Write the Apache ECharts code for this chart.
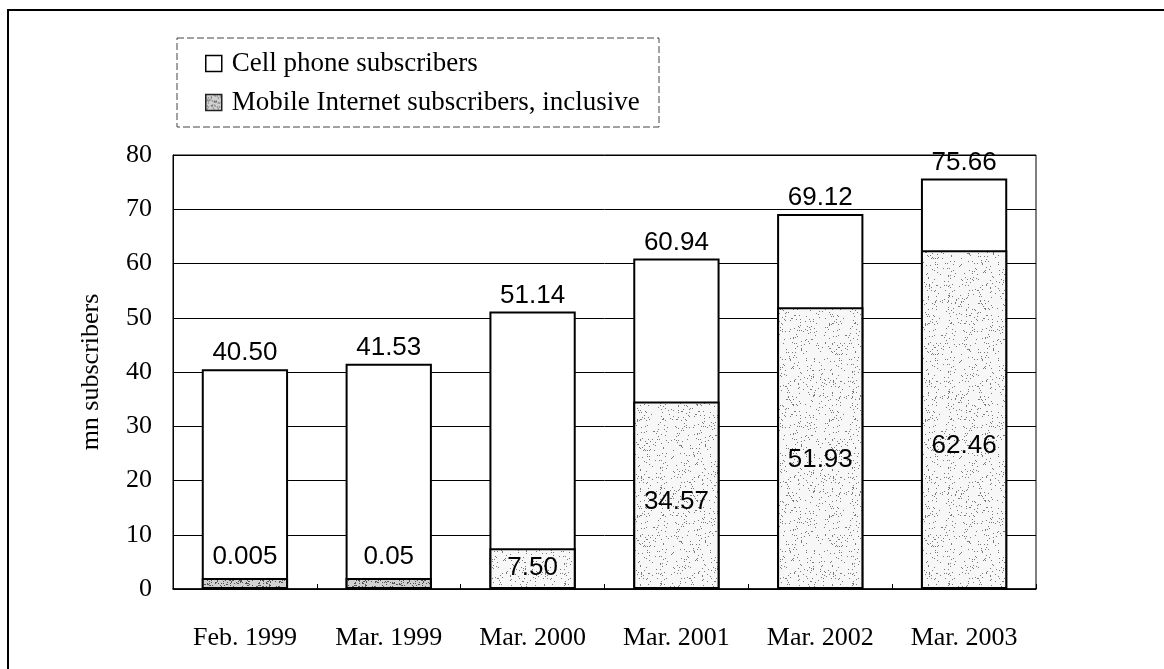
<!DOCTYPE html>
<html>
<head>
<meta charset="utf-8">
<script src="https://cdn.jsdelivr.net/npm/echarts@6/dist/echarts.min.js"></script>
<style>
html,body{margin:0;padding:0;background:#fff;}
#chart{width:1164px;height:669px;}
</style>
</head>
<body>
<div id="chart"></div>
<script>
// ---- data ----
const categories = ['Feb. 1999', 'Mar. 1999', 'Mar. 2000', 'Mar. 2001', 'Mar. 2002', 'Mar. 2003'];
const cellPhone = [40.50, 41.53, 51.14, 60.94, 69.12, 75.66];
const mobileInternet = [0.005, 0.05, 7.50, 34.57, 51.93, 62.46];
const cellLabels = ['40.50', '41.53', '51.14', '60.94', '69.12', '75.66'];
const mobileLabels = ['0.005', '0.05', '7.50', '34.57', '51.93', '62.46'];
const seriesNames = ['Cell phone subscribers', 'Mobile Internet subscribers, inclusive'];
const yAxisName = 'mn subscribers';

// ---- style ----
const mobileLabelLift = [32, 32, 21, 87, 129, 143]; // px from baseline to label centre
const SERIF = 'Liberation Serif';
const SANS = 'Liberation Sans';

function makeStipple(bg, dot, count, seed) {
  const n = 96;
  const cv = document.createElement('canvas');
  cv.width = n; cv.height = n;
  const ctx = cv.getContext('2d');
  ctx.fillStyle = bg;
  ctx.fillRect(0, 0, n, n);
  let s = seed;
  const next = () => { s = (Math.imul(s, 1103515245) + 12345) >>> 0; return s / 4294967296; };
  ctx.fillStyle = dot;
  for (let i = 0; i < count; i++) {
    const x = Math.floor(next() * n), y = Math.floor(next() * n);
    ctx.fillRect(x, y, 1, 1);
  }
  return cv;
}
const stipple = makeStipple('#f7f7f7', '#7a7a7a', 520, 987654321);
const stippleDark = makeStipple('#d0d0d0', '#555555', 1800, 123456789);

const chart = echarts.init(document.getElementById('chart'), null, { renderer: 'canvas' });
chart.setOption({
  animation: false,
  backgroundColor: '#fff',
  grid: { left: 173, right: 128, top: 155, bottom: 80, show: true, borderColor: '#000', borderWidth: 1, backgroundColor: 'transparent' },
  legend: {
    orient: 'vertical', left: 205, top: 50, padding: 0,
    itemWidth: 16, itemHeight: 16, itemGap: 12,
    selectedMode: false,
    textStyle: { fontFamily: SERIF, fontSize: 27, color: '#000', lineHeight: 27, padding: [0, 0, 0, 5] },
    itemStyle: { borderWidth: 1.5, borderColor: '#000' },
    data: [
      { name: seriesNames[0], icon: 'rect' },
      { name: seriesNames[1], icon: 'rect', itemStyle: { color: { image: stippleDark, repeat: 'repeat' }, borderColor: '#222', borderWidth: 1.5 } }
    ]
  },
  xAxis: {
    type: 'category',
    data: categories,
    axisLine: { show: true, lineStyle: { color: '#000', width: 1.5 } },
    axisTick: { show: true, inside: true, length: 5, lineStyle: { color: '#000' } },
    axisLabel: { fontFamily: SERIF, fontSize: 26, color: '#000', margin: 36 },
    splitLine: { show: false }
  },
  yAxis: {
    type: 'value', min: 0, max: 80, interval: 10,
    name: yAxisName, nameLocation: 'middle', nameGap: 69,
    nameTextStyle: { fontFamily: SERIF, fontSize: 26, color: '#000' },
    axisLine: { show: true, lineStyle: { color: '#000', width: 1 } },
    axisTick: { show: false },
    axisLabel: { fontFamily: SERIF, fontSize: 26, color: '#000', margin: 21 },
    splitLine: { show: true, lineStyle: { color: '#000', width: 1 } }
  },
  series: [
    {
      name: seriesNames[0], type: 'bar', data: cellPhone,
      barWidth: '60%', barGap: '-100%',
      itemStyle: { color: '#fff', borderColor: '#000', borderWidth: 2 },
      label: {
        show: true, position: 'top', distance: 3,
        formatter: p => cellLabels[p.dataIndex],
        fontFamily: SANS, fontSize: 26, color: '#000'
      },
      z: 2
    },
    {
      name: seriesNames[1], type: 'bar',
      data: mobileInternet.map((v, i) => ({
        value: v,
        label: { distance: mobileLabelLift[i] - 13 },
        itemStyle: v < 1 ? { color: { image: stippleDark, repeat: 'repeat' } } : undefined
      })),
      barWidth: '60%', barGap: '-100%', barMinHeight: 11,
      itemStyle: { color: { image: stipple, repeat: 'repeat' }, borderColor: '#000', borderWidth: 2 },
      label: {
        show: true, position: 'insideBottom',
        formatter: p => mobileLabels[p.dataIndex],
        fontFamily: SANS, fontSize: 26, color: '#000'
      },
      z: 3
    }
  ],
  graphic: [
    {
      type: 'polyline', silent: true,
      shape: { points: [[8, 669], [8, 10], [1164, 10]] },
      style: { stroke: '#000', lineWidth: 2, fill: null }
    },
    {
      type: 'rect', silent: true,
      shape: { x: 177, y: 38, width: 482, height: 89 },
      style: { stroke: '#444', lineWidth: 1, lineDash: [7, 3], fill: null }
    }
  ]
});
</script>
</body>
</html>
